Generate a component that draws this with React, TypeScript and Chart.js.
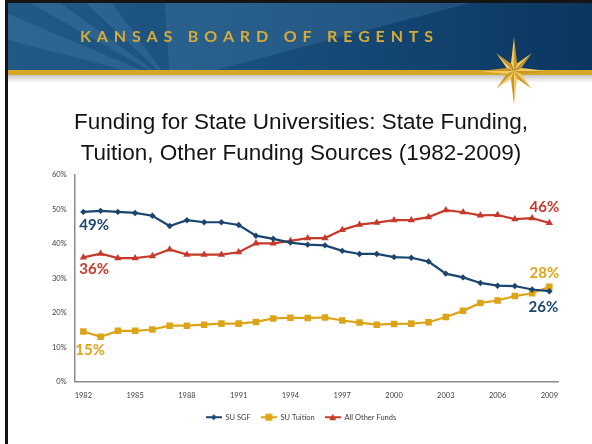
import React, { useEffect, useRef } from 'react';
import { Chart, registerables } from 'chart.js';

Chart.register(...registerables);

const years = [
  '1982', '1983', '1984', '1985', '1986', '1987', '1988', '1989', '1990', '1991',
  '1992', '1993', '1994', '1995', '1996', '1997', '1998', '1999', '2000', '2001',
  '2002', '2003', '2004', '2005', '2006', '2007', '2008', '2009',
];

const suSgf = [
  49.3, 49.6, 49.3, 49.0, 48.2, 45.2, 46.9, 46.3, 46.3, 45.5, 42.4, 41.5, 40.4, 39.8,
  39.6, 38.0, 37.1, 37.1, 36.2, 36.0, 34.9, 31.4, 30.3, 28.7, 27.9, 27.8, 26.8, 26.3,
];

const suTuition = [
  14.6, 13.1, 14.8, 14.8, 15.2, 16.3, 16.3, 16.6, 16.9, 16.9, 17.4, 18.4, 18.6, 18.5,
  18.7, 17.8, 17.2, 16.6, 16.8, 16.9, 17.3, 18.8, 20.6, 22.9, 23.6, 24.9, 25.7, 27.6,
];

const otherFunds = [
  36.1, 37.2, 35.9, 35.9, 36.5, 38.4, 36.9, 36.9, 36.9, 37.6, 40.2, 40.2, 40.9, 41.7,
  41.7, 44.1, 45.6, 46.2, 46.9, 46.9, 47.8, 49.8, 49.2, 48.3, 48.4, 47.2, 47.5, 46.1,
];

const seriesNames = ['SU SGF', 'SU Tuition', 'All Other Funds'];
const startLabels = ['49%', '15%', '36%'];
const endLabels = ['26%', '28%', '46%'];
const yTicks = [0, 10, 20, 30, 40, 50, 60];

const titleLines = [
  'Funding for State Universities: State Funding,',
  'Tuition, Other Funding Sources (1982-2009)',
];
const headerText = 'KANSAS BOARD OF REGENTS';

const COLORS = ['#1b456f', '#dca419', '#c53a2a'];
const POINT_STYLES = ['rectRot', 'rect', 'triangle'];
const POINT_RADII = [3.2, 4.6, 4.2];
const START_OFFSETS = [[-4, 13.5], [-8, 19], [-4, 12]];
const END_OFFSETS = [[-6, 15.5], [-5, -13.5], [-5, -16]];

function drawHeader(ctx: CanvasRenderingContext2D, W: number, H: number) {
  ctx.save();
  ctx.fillStyle = '#ffffff';
  ctx.fillRect(0, 0, W, H);

  // frame
  ctx.fillStyle = '#151515';
  ctx.fillRect(5, 0, 3, H);
  ctx.fillRect(5, 0, W - 5, 3);

  // blue band
  const g = ctx.createLinearGradient(8, 0, W, 0);
  g.addColorStop(0, '#215a87');
  g.addColorStop(0.5, '#174c79');
  g.addColorStop(1, '#0b3660');
  ctx.fillStyle = g;
  ctx.fillRect(8, 3, W - 8, 67);

  // rays
  ctx.save();
  ctx.beginPath();
  ctx.rect(8, 3, W - 8, 67);
  ctx.clip();
  const ox = 170;
  const oy = 82;
  const rays: number[][][] = [
    [[8, 14], [8, 40]],
    [[30, 3], [60, 3]],
    [[86, 3], [112, 3]],
    [[165, 3], [470, 3]],
  ];
  ctx.fillStyle = 'rgba(120,175,215,0.16)';
  rays.forEach(([a, b]) => {
    ctx.beginPath();
    ctx.moveTo(ox, oy);
    ctx.lineTo(a[0], a[1]);
    ctx.lineTo(b[0], b[1]);
    ctx.closePath();
    ctx.fill();
  });
  ctx.restore();

  // gold stripe + shadow
  ctx.fillStyle = '#d6a626';
  ctx.fillRect(8, 70, W - 8, 5);
  const sg = ctx.createLinearGradient(0, 75, 0, 83);
  sg.addColorStop(0, 'rgba(0,0,0,0.22)');
  sg.addColorStop(1, 'rgba(0,0,0,0)');
  ctx.fillStyle = sg;
  ctx.fillRect(8, 75, W - 8, 8);

  // header text, letter-spaced
  ctx.font = 'bold 16px Lato';
  ctx.fillStyle = '#d9ab35';
  ctx.textBaseline = 'alphabetic';
  ctx.textAlign = 'left';
  const chars = headerText.split('');
  const natural = chars.reduce((s, c) => s + ctx.measureText(c).width, 0);
  const x0 = 80;
  const x1 = 433;
  const spacing = (x1 - x0 - natural) / (chars.length - 1);
  let x = x0;
  chars.forEach((c) => {
    ctx.fillText(c, x, 42);
    x += ctx.measureText(c).width + spacing;
  });

  // star
  const cx = 514;
  const cy = 71;
  for (let i = 0; i < 8; i++) {
    const a = -Math.PI / 2 + (i * Math.PI) / 4;
    const R = i % 2 === 0 ? 34 : 25;
    const r = 8;
    const tx = cx + R * Math.cos(a);
    const ty = cy + R * Math.sin(a);
    const lx = cx + r * Math.cos(a - Math.PI / 8);
    const ly = cy + r * Math.sin(a - Math.PI / 8);
    const rx = cx + r * Math.cos(a + Math.PI / 8);
    const ry = cy + r * Math.sin(a + Math.PI / 8);
    ctx.beginPath();
    ctx.moveTo(cx, cy);
    ctx.lineTo(lx, ly);
    ctx.lineTo(tx, ty);
    ctx.closePath();
    ctx.fillStyle = '#f3cb5e';
    ctx.fill();
    ctx.beginPath();
    ctx.moveTo(cx, cy);
    ctx.lineTo(rx, ry);
    ctx.lineTo(tx, ty);
    ctx.closePath();
    ctx.fillStyle = '#c9962a';
    ctx.fill();
  }
  ctx.restore();
}

function makeIcon(color: string, style: string): HTMLCanvasElement {
  const c = document.createElement('canvas');
  c.width = 16;
  c.height = 10;
  const ctx = c.getContext('2d') as CanvasRenderingContext2D;
  ctx.strokeStyle = color;
  ctx.lineWidth = 2;
  ctx.beginPath();
  ctx.moveTo(0, 5);
  ctx.lineTo(16, 5);
  ctx.stroke();
  ctx.fillStyle = color;
  ctx.beginPath();
  if (style === 'rect') {
    ctx.rect(4.5, 1.5, 7, 7);
  } else if (style === 'triangle') {
    ctx.moveTo(8, 1.5);
    ctx.lineTo(11.5, 8);
    ctx.lineTo(4.5, 8);
    ctx.closePath();
  } else {
    ctx.moveTo(8, 2);
    ctx.lineTo(11, 5);
    ctx.lineTo(8, 8);
    ctx.lineTo(5, 5);
    ctx.closePath();
  }
  ctx.fill();
  return c;
}

export default function App() {
  const ref = useRef<HTMLCanvasElement>(null);

  useEffect(() => {
    if (!ref.current) return;
    const icons = COLORS.map((c, i) => makeIcon(c, POINT_STYLES[i]));

    const headerPlugin = {
      id: 'slideHeader',
      beforeDraw(chart: any) {
        drawHeader(chart.ctx, chart.width, chart.height);
      },
    };

    const endLabelPlugin = {
      id: 'endLabels',
      afterDatasetsDraw(chart: any) {
        const ctx: CanvasRenderingContext2D = chart.ctx;
        ctx.save();
        ctx.font = 'bold 15px Lato';
        ctx.textBaseline = 'middle';
        chart.data.datasets.forEach((ds: any, i: number) => {
          const meta = chart.getDatasetMeta(i);
          const first = meta.data[0];
          const last = meta.data[meta.data.length - 1];
          ctx.fillStyle = COLORS[i];
          ctx.textAlign = 'left';
          ctx.fillText(startLabels[i], first.x + START_OFFSETS[i][0], first.y + START_OFFSETS[i][1]);
          ctx.textAlign = 'center';
          ctx.fillText(endLabels[i], last.x + END_OFFSETS[i][0], last.y + END_OFFSETS[i][1]);
        });
        ctx.restore();
      },
    };

    const seriesData = [suSgf, suTuition, otherFunds];

    const chart = new Chart(ref.current, {
      type: 'line',
      data: {
        labels: years,
        datasets: seriesData.map((d, i) => ({
          label: seriesNames[i],
          data: d,
          borderColor: COLORS[i],
          backgroundColor: COLORS[i],
          borderWidth: 2.2,
          pointStyle: POINT_STYLES[i] as any,
          pointRadius: POINT_RADII[i],
          pointBorderWidth: 0,
          pointBackgroundColor: COLORS[i],
          tension: 0,
          fill: false,
        })),
      },
      options: {
        animation: false,
        responsive: true,
        maintainAspectRatio: false,
        layout: { padding: { top: 92, left: 44, right: 34, bottom: 13 } },
        scales: {
          x: {
            offset: true,
            grid: { display: false, drawTicks: false },
            border: { display: true, color: '#8a8a8a', width: 1.5 },
            afterFit: (scale: any) => {
              scale.height = scale.height - 5.4;
            },
            ticks: {
              autoSkip: false,
              maxRotation: 0,
              padding: 9,
              color: '#404040',
              font: { family: 'Lato', size: 7.5 },
              callback: (_v: any, i: number) => (i % 3 === 0 ? years[i] : ''),
            },
          },
          y: {
            min: yTicks[0],
            max: yTicks[yTicks.length - 1],
            grid: { display: false, drawTicks: false },
            border: { display: true, color: '#8a8a8a', width: 1.5 },
            afterBuildTicks: (scale: any) => {
              scale.ticks = yTicks.map((v) => ({ value: v }));
            },
            ticks: {
              padding: 8,
              color: '#404040',
              font: { family: 'Lato', size: 7.5 },
              callback: (v: any) => `${v}%`,
            },
          },
        },
        plugins: {
          title: {
            display: true,
            text: titleLines,
            color: '#141414',
            font: { family: 'Liberation Sans', size: 22.5, weight: 'normal', lineHeight: 1.378 },
            padding: { top: 15, bottom: 6 },
          },
          legend: {
            position: 'bottom',
            labels: {
              usePointStyle: true,
              pointStyleWidth: 16,
              boxHeight: 8,
              padding: 10,
              color: '#404040',
              font: { family: 'Lato', size: 7.5 },
              generateLabels: (ch: any) =>
                ch.data.datasets.map((ds: any, i: number) => ({
                  text: ds.label,
                  fillStyle: COLORS[i],
                  strokeStyle: COLORS[i],
                  lineWidth: 0,
                  pointStyle: icons[i],
                  hidden: false,
                  datasetIndex: i,
                  fontColor: '#404040',
                })),
            },
          },
          tooltip: { enabled: false },
        },
      },
      plugins: [headerPlugin, endLabelPlugin],
    });

    return () => chart.destroy();
  }, []);

  return (
    <div style={{ position: 'absolute', left: 0, top: 0, width: 592, height: 444 }}>
      <canvas ref={ref} />
    </div>
  );
}
